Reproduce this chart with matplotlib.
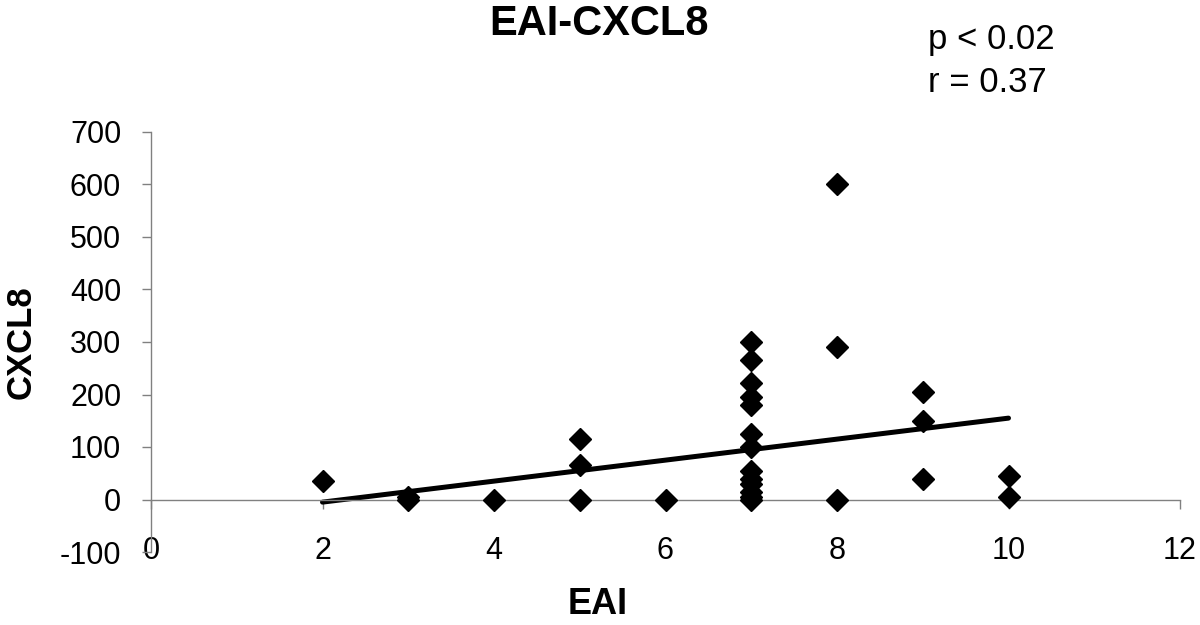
import matplotlib.pyplot as plt

plt.rcParams['font.family'] = ['Liberation Sans', 'DejaVu Sans']
plt.rcParams['axes.unicode_minus'] = False

# EAI score and CXCL8 level per patient
eai = [2, 3, 3, 4, 5, 5, 5, 6,
       7, 7, 7, 7, 7, 7, 7, 7, 7, 7, 7, 7, 7,
       8, 8, 8, 9, 9, 9, 10, 10]
cxcl8 = [35, 0, 4, 0, 115, 65, 0, 0,
         300, 265, 222, 195, 180, 125, 100, 55, 40, 30, 15, 5, 0,
         600, 290, 0, 205, 150, 40, 45, 5]

# linear trend line as drawn in the original
trend_x = [2, 10]
trend_y = [-5, 155]

x_ticks = [0, 2, 4, 6, 8, 10, 12]
y_ticks = [-100, 0, 100, 200, 300, 400, 500, 600, 700]

fig = plt.figure(figsize=(12, 6.25), dpi=100)
ax = fig.add_axes([151 / 1200, 1 - 552 / 625, (1180 - 151) / 1200, (552 - 132) / 625])

ax.plot(eai, cxcl8, linestyle='none', marker='D', markersize=11.5,
        color='black', zorder=3)
ax.plot(trend_x, trend_y, color='black', linewidth=3.6, solid_capstyle='round', zorder=2)

ax.set_xlim(0, 12)
ax.set_ylim(-100, 700)
ax.set_xticks(x_ticks)
ax.set_yticks(y_ticks)

ax.spines['top'].set_visible(False)
ax.spines['right'].set_visible(False)
ax.spines['bottom'].set_position(('data', 0))
for side in ['left', 'bottom']:
    ax.spines[side].set_color('#808080')
    ax.spines[side].set_linewidth(1)

ax.tick_params(axis='x', direction='out', length=6.5, width=1, color='#808080',
               pad=20, labelsize=22)
ax.tick_params(axis='y', direction='out', length=6.5, width=1, color='#808080',
               pad=15, labelsize=22)

fig.text(599 / 1200, 1 - 24 / 625, 'EAI-CXCL8', fontsize=30, fontweight='bold',
         ha='center', va='center')
fig.text(598 / 1200, 1 - 605 / 625, 'EAI', fontsize=26, fontweight='bold',
         ha='center', va='center')
fig.text(21 / 1200, 1 - 342 / 625, 'CXCL8', fontsize=25, fontweight='bold',
         ha='center', va='center', rotation=90)

fig.text(928 / 1200, 1 - 40 / 625, 'p < 0.02', fontsize=25, va='center', ha='left')
fig.text(928 / 1200, 1 - 82 / 625, 'r = 0.37', fontsize=25, va='center', ha='left')

fig.savefig('out.png')
